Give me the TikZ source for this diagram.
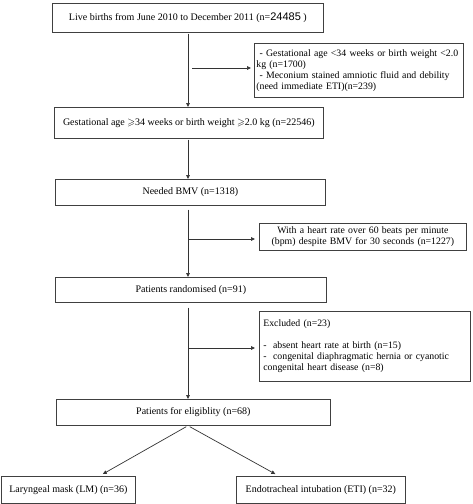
\documentclass[tikz,border=0pt]{standalone}
\usepackage{amssymb}
\usepackage{fontspec}
\setmainfont{Liberation Serif}
\setsansfont{Liberation Sans}
\usetikzlibrary{arrows.meta}
\begin{document}
\begin{tikzpicture}[x=1pt,y=-1pt,every node/.style={font=\fontsize{10}{11}\selectfont},
 box/.style={draw=black!75,line width=.7pt,anchor=north west,inner sep=0pt,align=center},
 side/.style={box,align=left,inner xsep=2pt,font=\fontsize{9.8}{11}\selectfont},
 arr/.style={draw=black!80,line width=.7pt,-{Triangle[length=4pt,width=3.6pt]}}]
 \useasboundingbox (0,0) rectangle (472,504);
 \coordinate (spine) at (188,0);
 % main column
 \node[box,minimum width=271pt,minimum height=29pt] (live) at (52,3)
  {Live births from June 2010 to December 2011 (n={\sffamily\fontsize{11}{11}\selectfont 24485} )};
 \node[box,minimum width=269pt,minimum height=31pt] (ges) at (54,107)
  {Gestational age $\geqslant$34 weeks or birth weight $\geqslant$2.0 kg (n=22546)};
 \node[box,minimum width=270pt,minimum height=26pt] (bmv) at (55,179) {Needed BMV (n=1318)};
 \node[box,minimum width=271pt,minimum height=25pt] (rand) at (55,277) {Patients randomised (n=91)};
 \node[box,minimum width=274pt,minimum height=26pt] (elig) at (56,399) {Patients for eligiblity (n=68)};
 \node[box,minimum width=134pt,minimum height=27pt] (lm) at (1,476) {Laryngeal mask (LM) (n=36)};
 \node[box,minimum width=169pt,minimum height=27pt] (eti) at (236,476) {Endotracheal intubation (ETI) (n=32)};
 % side boxes
 \node[side,text width=205pt,minimum height=54pt] (exc1) at (254,43)
  {\ - Gestational age <34 weeks or birth weight <2.0\\kg (n=1700)\\\ - Meconium stained amniotic fluid and debility\\(need immediate ETI)(n=239)};
 \node[side,align=center,text width=203pt,minimum height=27pt] (exc2) at (259,223)
  {With a heart rate over 60 beats per minute\\(bpm) despite BMV for 30 seconds (n=1227)};
 \node[side,inner xsep=4pt,text width=203pt,minimum height=70pt] (exc3) at (259,311)
  {Excluded (n=23)\\[11pt]-\ \ absent heart rate at birth (n=15)\\-\ \ congenital diaphragmatic hernia or cyanotic\\congenital heart disease (n=8)};
 % arrows
 \coordinate (j1) at (192,68); \coordinate (j2) at (189,239); \coordinate (j3) at (189,348);
 \draw[arr,shorten <=1pt] (live.south -| spine) -- (ges.north -| spine);
 \draw[arr,shorten <=1pt] (ges.south -| spine) -- (bmv.north -| spine);
 \draw[arr,shorten <=4pt] (bmv.south -| spine) -- (rand.north -| spine);
 \draw[arr,shorten <=5pt] (rand.south -| spine) -- (elig.north -| spine);
 \draw[arr,shorten >=3pt] (j1) -- (j1 -| exc1.west);
 \draw[arr,shorten >=4pt] (j2) -- (j2 -| exc2.west);
 \draw[arr,shorten >=4pt] (j3) -- (j3 -| exc3.west);
 \draw[arr,shorten <=2pt,shorten >=4pt] (elig.south -| spine) -- ([xshift=31pt]lm.north);
 \draw[arr,shorten <=2pt,shorten >=4pt] (elig.south -| spine) -- ([xshift=-42pt]eti.north);
\end{tikzpicture}
\end{document}
